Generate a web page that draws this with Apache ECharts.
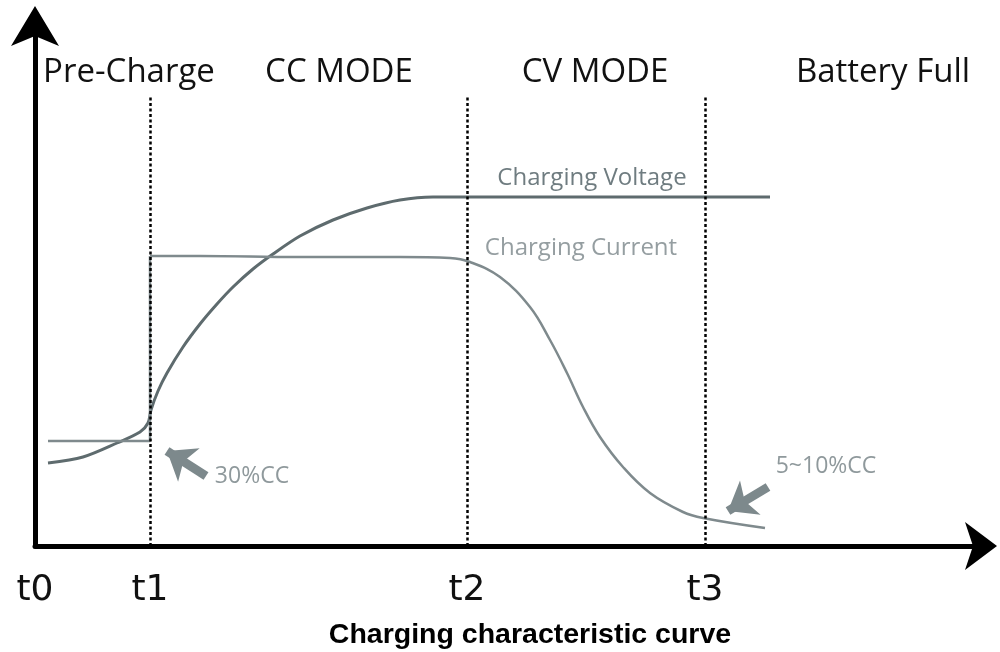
<!DOCTYPE html>
<html>
<head>
<meta charset="utf-8">
<script src="https://cdn.jsdelivr.net/npm/echarts@6/dist/echarts.min.js"></script>
<style>html,body{margin:0;padding:0;background:#fff}</style>
</head>
<body>
<div id="chart" style="width:1000px;height:652px;"></div>
<script>
  // time axis marks (arbitrary units) and their labels
  const tickValues = [0, 115, 432, 670];
  const tickLabels = ['t0', 't1', 't2', 't3'];
  const phaseNames = ['Pre-Charge', 'CC MODE', 'CV MODE', 'Battery Full'];

  // curves, [time, level]
  const voltage = [[13, 83], [48, 89], [82, 103], [105, 114], [113, 123], [116, 136], [123, 155], [132, 173],
    [148, 199], [165, 222], [182, 242], [198, 259], [218, 277], [238, 292], [265, 310], [298, 326], [332, 338],
    [365, 346], [398, 349], [432, 349], [735, 349]];
  const preCurrent = [[13, 105], [115, 105], [115, 290]];
  const current = [[115, 290], [165, 290], [265, 289], [365, 289], [415, 288], [435, 284], [465, 269], [495, 239],
    [515, 206], [532, 173], [548, 139], [565, 109], [588, 79], [615, 53], [648, 34], [668, 28], [730, 18]];

  const myChart = echarts.init(document.getElementById('chart'));

  const phaseX = [129, 339, 595, 883];

  const option = {
    animation: false,
    title: {
      text: 'Charging characteristic curve',
      left: 525,
      top: 616,
      textAlign: 'center',
      textStyle: {fontFamily: '"Liberation Sans", Arial', fontWeight: 'bold', fontSize: 28.5, color: '#000'}
    },
    grid: {left: 35, right: 17, top: 23, bottom: 106},
    xAxis: {
      type: 'value',
      min: 0,
      max: 948,
      splitLine: {show: false},
      axisLine: {
        symbol: ['none', 'arrow'],
        symbolSize: [36, 32],
        symbolOffset: [0, 14],
        lineStyle: {color: '#000', width: 5}
      },
      axisTick: {show: false},
      axisLabel: {
        customValues: tickValues,
        formatter: function (v) {
          return tickLabels[tickValues.indexOf(v)];
        },
        margin: 27,
        fontSize: 36,
        fontFamily: '"DejaVu Sans", sans-serif',
        color: '#111'
      }
    },
    yAxis: {
      type: 'value',
      min: 0,
      max: 523,
      splitLine: {show: false},
      axisTick: {show: false},
      axisLabel: {show: false},
      axisLine: {
        show: true,
        symbol: ['none', 'arrow'],
        symbolSize: [36, 40],
        symbolOffset: [0, 17],
        lineStyle: {color: '#000', width: 5}
      }
    },
    graphic: phaseNames.map((name, i) => ({
      type: 'text',
      x: phaseX[i],
      y: 73,
      style: {
        text: name,
        font: '33px "Open Sans", sans-serif',
        fill: '#111',
        align: 'center',
        verticalAlign: 'middle'
      }
    })).concat([
      {type: 'text', x: 592, y: 178, style: {text: 'Charging Voltage', font: '24px "Open Sans", sans-serif', fill: '#6f7c80', align: 'center', verticalAlign: 'middle'}},
      {type: 'text', x: 581, y: 248, style: {text: 'Charging Current', font: '24px "Open Sans", sans-serif', fill: '#959ea1', align: 'center', verticalAlign: 'middle'}},
      {type: 'text', x: 252, y: 476, style: {text: '30%CC', font: '23px "Open Sans", sans-serif', fill: '#8f999c', align: 'center', verticalAlign: 'middle'}},
      {type: 'text', x: 826, y: 466, style: {text: '5~10%CC', font: '23px "Open Sans", sans-serif', fill: '#8f999c', align: 'center', verticalAlign: 'middle'}}
    ]),
    series: [
      {
        name: 'Charging Voltage',
        type: 'line',
        data: voltage,
        smooth: 0.3,
        showSymbol: false,
        lineStyle: {color: '#5e6b6e', width: 3},
        markLine: {
          silent: true,
          symbol: 'none',
          label: {show: false},
          lineStyle: {color: '#000', width: 2.5, type: [3, 2.5]},
          data: tickValues.slice(1).map(v => [{coord: [v, 0]}, {coord: [v, 451]}])
        }
      },
      {
        name: 'Charging Current',
        type: 'line',
        data: preCurrent,
        showSymbol: false,
        lineStyle: {color: '#7f8a8d', width: 2.5}
      },
      {
        name: 'Charging Current',
        type: 'line',
        data: current,
        smooth: 0.4,
        showSymbol: false,
        lineStyle: {color: '#7f8a8d', width: 2.5},
        markLine: {
          silent: true,
          symbol: ['none', 'arrow'],
          symbolSize: [30, 26],
          label: {show: false},
          lineStyle: {color: '#7d898c', width: 9, type: 'solid'},
          data: [
            [{coord: [171, 70]}, {coord: [132, 95]}],
            [{coord: [733, 59]}, {coord: [693, 35]}]
          ]
        }
      }
    ]
  };

  myChart.setOption(option);
</script>
</body>
</html>
